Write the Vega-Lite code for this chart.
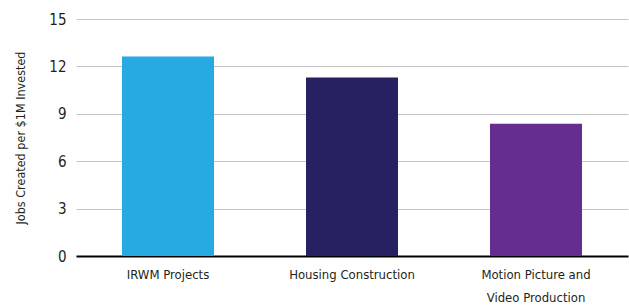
{
  "$schema": "https://vega.github.io/schema/vega-lite/v6.json",
  "autosize": "none",
  "width": 552,
  "height": 237,
  "padding": {"left": 76, "top": 19, "right": 1, "bottom": 49},
  "background": "white",
  "data": {"values": [
    {"category": "IRWM Projects", "jobs": 12.63},
    {"category": "Housing Construction", "jobs": 11.3},
    {"category": "Motion Picture and Video Production", "jobs": 8.37}
  ]},
  "mark": {"type": "bar"},
  "encoding": {
    "x": {
      "field": "category", "type": "nominal", "sort": null,
      "scale": {"paddingInner": 0.5, "paddingOuter": 0.25},
      "axis": {
        "title": null, "labelAngle": 0, "ticks": false,
        "domainColor": "#000000", "domainWidth": 2,
        "labelFont": "DejaVu Sans Condensed, Roboto, sans-serif", "labelFontSize": 13, "labelColor": "#231f20",
        "labelPadding": 12, "labelLineHeight": 23,
        "labelExpr": "datum.label == 'Motion Picture and Video Production' ? ['Motion Picture and', 'Video Production'] : datum.label"
      }
    },
    "y": {
      "field": "jobs", "type": "quantitative",
      "scale": {"domain": [0, 15]},
      "axis": {
        "title": "Jobs Created per $1M Invested", "values": [0, 3, 6, 9, 12, 15],
        "domain": false, "ticks": false, "gridColor": "#c4c4c4", "gridWidth": 1,
        "labelFont": "DejaVu Sans Condensed, Roboto, sans-serif", "labelFontSize": 15, "labelColor": "#231f20", "labelPadding": 10,
        "titleFont": "DejaVu Sans Condensed, Roboto, sans-serif", "titleFontSize": 12.5, "titleFontWeight": "normal", "titleColor": "#231f20", "titlePadding": 21
      }
    },
    "color": {
      "field": "category", "type": "nominal", "legend": null,
      "scale": {"domain": ["IRWM Projects", "Housing Construction", "Motion Picture and Video Production"], "range": ["#27aae1", "#262262", "#662d91"]}
    }
  },
  "config": {"view": {"stroke": null}}
}
